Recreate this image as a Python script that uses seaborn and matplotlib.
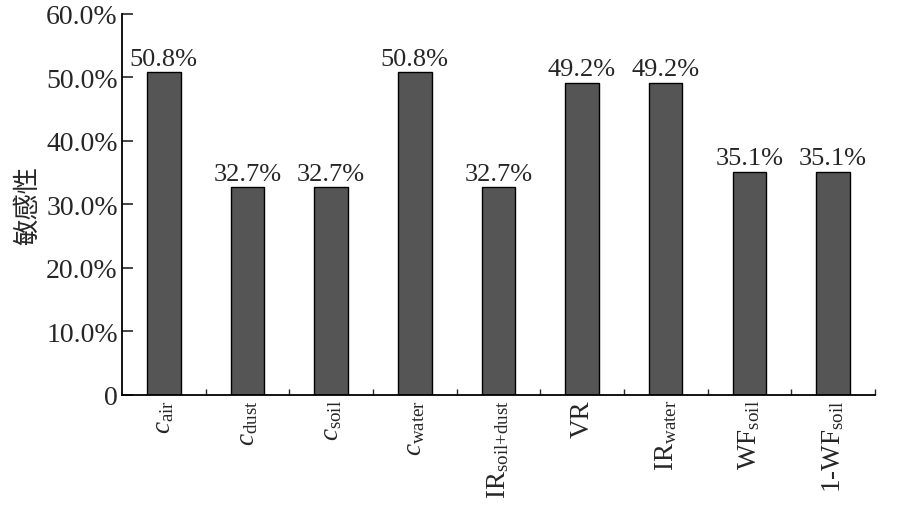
import numpy as np
import pandas as pd
import matplotlib
matplotlib.use("Agg")
import matplotlib.pyplot as plt
import seaborn as sns
from matplotlib.ticker import FixedLocator, FuncFormatter

# Sensitivity values (%) per parameter
params = ["$c_{\\mathrm{air}}$", "$c_{\\mathrm{dust}}$", "$c_{\\mathrm{soil}}$", "$c_{\\mathrm{water}}$",
          "IR$_{\\mathrm{soil{+}dust}}$", "VR", "IR$_{\\mathrm{water}}$", "WF$_{\\mathrm{soil}}$",
          "1-WF$_{\\mathrm{soil}}$"]
sensitivity = [50.8, 32.7, 32.7, 50.8, 32.7, 49.2, 49.2, 35.1, 35.1]
yticks = [0, 10, 20, 30, 40, 50, 60]

df = pd.DataFrame({"param": params, "sens": sensitivity})

sns.set_style("white")
plt.rcParams["font.family"] = ["Liberation Serif", "DejaVu Serif"]
plt.rcParams["mathtext.fontset"] = "custom"
plt.rcParams["mathtext.rm"] = "Liberation Serif"
plt.rcParams["mathtext.it"] = "Liberation Serif:italic"

fig = plt.figure(figsize=(9, 5.06), dpi=100)
ax = fig.add_axes([0.1356, 0.2174, 0.8364, 0.753])

sns.barplot(data=df, x="param", y="sens", color="#555555", edgecolor="black",
            linewidth=1.0, width=0.4, saturation=1, ax=ax)

for c in ax.containers:
    ax.bar_label(c, labels=[f"{v:.1f}%" for v in sensitivity], padding=2, fontsize=19)

ax.set_ylim(0, 60)
ax.set_xlim(-0.5, len(params) - 0.5)
ax.set_yticks(yticks)
ax.yaxis.set_major_formatter(FuncFormatter(lambda v, p: "0" if v == 0 else f"{v:.1f}%"))
ax.tick_params(axis="y", direction="in", length=8, width=1.2, labelsize=20, left=True, pad=3)
ax.tick_params(axis="x", which="major", length=0, labelsize=19.5, rotation=90, pad=3)
ax.xaxis.set_minor_locator(FixedLocator(np.arange(0.5, len(params), 1.0)))
ax.tick_params(axis="x", which="minor", direction="in", length=4, width=1.0, bottom=True)

for s in ["top", "right"]:
    ax.spines[s].set_visible(False)
for s in ["left", "bottom"]:
    ax.spines[s].set_color("black")
    ax.spines[s].set_linewidth(1.3)

ax.set_xlabel("")
ax.set_ylabel("敏感性", fontsize=19, family=["Noto Sans CJK SC", "DejaVu Sans"], labelpad=4)

plt.savefig("out.png", dpi=100)
